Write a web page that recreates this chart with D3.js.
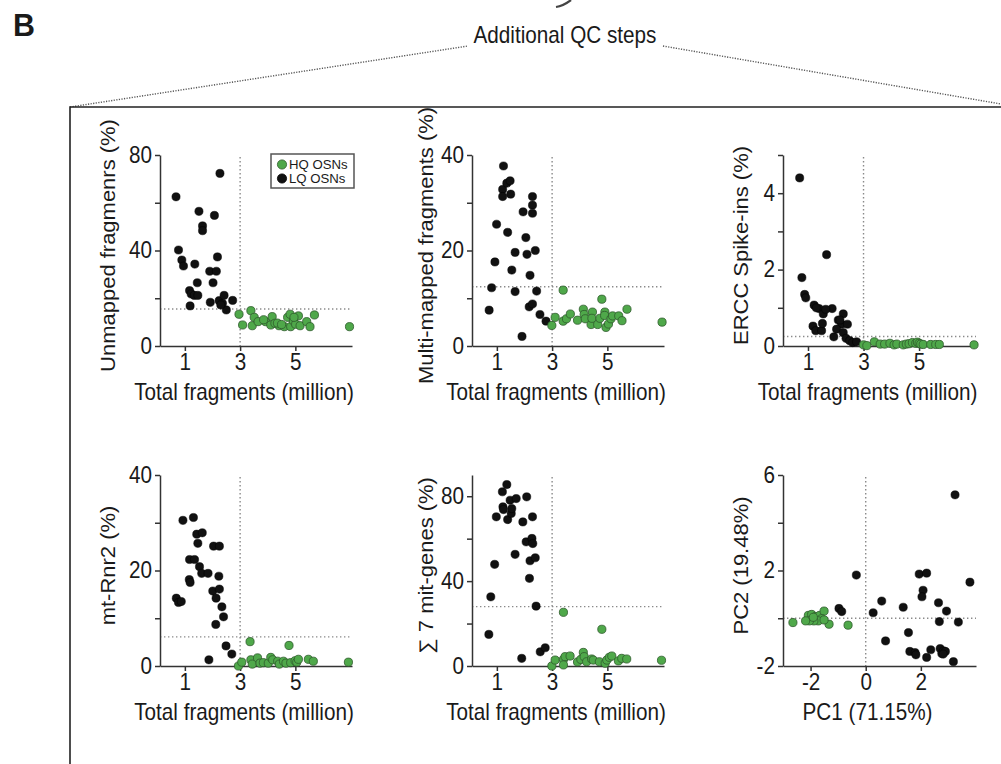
<!DOCTYPE html>
<html><head><meta charset="utf-8">
<script src="https://cdn.jsdelivr.net/npm/d3@7"></script>
<style>
body{margin:0;background:#fff;}
svg text{font-family:"Liberation Sans",Arial,Helvetica,sans-serif;fill:#1a1a1a;}
</style></head><body>
<svg id="fig" width="1001" height="764"></svg>
<script>
// ---- cell-level QC values: [total fragments (million), metric] ----
const unmappedLQ = [[0.68,62.5],[0.77,40.2],[0.89,36.0],[0.95,33.5],[1.36,34.3],[1.19,16.8],[1.17,23.2],[1.23,21.8],[1.34,21.2],[1.47,21.2],[1.45,26.5],[1.51,56.4],[1.64,50.3],[1.64,48.3],[1.90,31.3],[2.02,26.5],[1.92,18.3],[2.07,54.7],[2.14,31.3],[2.18,37.3],[2.27,72.3],[2.24,19.0],[2.36,17.9],[2.42,21.2],[2.50,15.1],[2.73,19.1],[2.30,17.2]];
const unmappedHQ = [[2.96,13.3],[3.09,8.8],[3.39,14.8],[3.51,12.0],[3.44,8.5],[3.65,10.2],[3.92,10.2],[4.11,8.8],[4.16,12.3],[4.26,9.5],[4.41,8.5],[4.60,8.1],[4.72,12.0],[4.81,13.3],[4.83,8.1],[4.93,10.5],[5.01,9.1],[5.11,12.6],[5.17,8.5],[5.41,10.2],[5.53,8.1],[5.69,13.0],[6.96,8.1],[3.85,11.0],[4.35,9.6],[4.50,9.0],[4.95,12.0]];

const multiLQ = [[0.72,7.5],[0.81,12.2],[0.93,17.6],[0.99,25.5],[1.24,37.7],[1.21,32.8],[1.21,31.3],[1.36,34.1],[1.48,34.6],[1.50,31.8],[1.39,23.8],[1.54,15.9],[1.66,19.6],[1.66,11.4],[1.91,2.0],[1.95,28.1],[2.05,22.7],[2.09,19.2],[2.20,14.8],[2.17,8.2],[2.29,8.8],[2.29,31.3],[2.29,29.5],[2.29,27.8],[2.39,20.0],[2.44,11.5],[2.56,6.6],[2.78,5.2]];
const multiHQ = [[2.99,4.3],[3.11,6.0],[3.40,11.7],[3.40,5.2],[3.52,5.7],[3.66,6.7],[3.92,5.4],[4.13,7.7],[4.16,6.6],[4.20,5.7],[4.41,4.5],[4.46,7.1],[4.44,5.8],[4.65,4.5],[4.73,5.8],[4.80,9.8],[4.91,7.1],[4.90,6.4],[4.95,3.9],[5.04,4.6],[5.13,5.7],[5.19,6.3],[5.41,6.3],[5.53,5.3],[5.71,7.7],[6.98,5.0]];

const erccLQ = [[0.70,4.40],[1.67,2.39],[0.78,1.79],[0.88,1.35],[0.92,1.26],[1.22,1.07],[1.40,0.98],[1.55,0.84],[1.87,0.98],[1.18,0.52],[1.28,0.40],[1.49,0.40],[1.52,0.59],[1.93,0.24],[2.09,0.68],[2.27,0.84],[2.21,0.57],[2.03,0.44],[2.42,0.57],[2.27,0.35],[2.37,0.20],[2.50,0.14],[2.61,0.09],[2.75,0.11],[1.30,1.00],[1.64,0.96],[2.15,0.68]];
const erccHQ = [[3.00,0.03],[3.12,0.01],[3.39,0.11],[3.60,0.05],[3.76,0.05],[3.95,0.07],[4.10,0.03],[4.20,0.05],[4.43,0.03],[4.54,0.05],[4.64,0.06],[4.76,0.09],[4.88,0.07],[4.94,0.10],[5.00,0.07],[5.06,0.05],[5.15,0.04],[5.42,0.04],[5.60,0.04],[5.73,0.04],[6.98,0.03]];

const rnr2LQ = [[0.69,14.2],[0.77,13.3],[0.87,13.5],[0.93,30.5],[1.16,18.1],[1.19,17.5],[1.17,22.3],[1.31,31.1],[1.35,22.3],[1.43,27.6],[1.47,25.7],[1.53,20.8],[1.63,27.9],[1.61,19.4],[1.84,19.4],[1.87,1.3],[2.01,15.7],[2.04,25.1],[2.13,14.2],[2.12,8.7],[2.23,18.8],[2.25,25.1],[2.25,16.1],[2.34,12.4],[2.40,10.3],[2.49,4.2],[2.70,2.5]];
const rnr2HQ = [[2.94,0.0],[3.06,0.8],[3.36,5.1],[3.39,1.3],[3.44,0.4],[3.63,1.7],[3.72,0.6],[3.84,0.7],[4.02,0.6],[4.11,1.8],[4.18,1.3],[4.36,1.0],[4.42,0.4],[4.57,1.0],[4.66,0.6],[4.77,4.3],[4.83,0.7],[4.99,1.1],[5.05,0.8],[5.11,1.4],[5.47,1.4],[5.65,1.0],[6.92,0.8]];

const mitLQ = [[0.71,14.9],[0.78,32.6],[0.92,47.9],[0.98,70.3],[1.20,82.1],[1.36,85.5],[1.22,75.0],[1.24,73.7],[1.39,69.0],[1.48,78.1],[1.52,71.9],[1.54,74.2],[1.70,78.9],[1.66,52.6],[1.90,3.6],[1.94,67.9],[2.06,58.5],[2.08,79.7],[2.42,28.2],[2.18,41.3],[2.20,49.6],[2.27,60.1],[2.30,57.7],[2.29,70.3],[2.39,51.0],[2.57,6.7],[2.75,8.6]];
const mitHQ = [[2.99,0.0],[3.11,2.8],[3.41,25.3],[3.41,3.1],[3.47,4.4],[3.41,0.5],[3.65,4.7],[3.92,1.9],[4.04,3.1],[4.13,6.4],[4.16,4.4],[4.25,2.0],[4.43,3.3],[4.49,2.8],[4.71,2.0],[4.80,17.3],[4.92,1.3],[4.98,2.8],[5.07,4.1],[5.16,4.7],[5.40,2.4],[5.52,3.6],[5.70,3.3],[6.96,2.7]];

// ---- PCA scores: [PC1, PC2] ----
const pcaLQ = [[-0.34,1.81],[-0.97,0.41],[-0.87,0.28],[0.27,0.23],[0.58,0.72],[0.72,-0.95],[1.36,0.46],[1.55,-0.60],[1.60,-1.39],[1.79,-1.44],[1.82,-1.53],[1.94,1.85],[2.21,1.89],[2.08,1.17],[2.04,0.90],[2.21,-1.64],[2.36,-1.32],[2.64,0.65],[2.67,-0.14],[2.70,-1.27],[2.76,-1.48],[2.82,-1.37],[2.89,-1.39],[2.81,-1.50],[2.93,0.30],[3.18,-1.82],[3.24,5.17],[3.36,-0.16],[3.78,1.51]];
const pcaHQ = [[-2.64,-0.18],[-2.08,0.12],[-1.96,0.16],[-1.82,0.07],[-1.67,0.12],[-1.51,0.30],[-1.60,-0.02],[-1.72,-0.11],[-1.88,-0.11],[-2.04,-0.11],[-2.18,-0.11],[-1.33,-0.25],[-0.64,-0.29],[-1.51,-0.07],[-1.90,0.04]];

// ---- axis ticks ----
const fragTicks = [1, 3, 5];
const pc1Ticks = [-2, 0, 2];
const pct80Ticks = [0, 20, 40, 60, 80], pct80Labels = [0, 40, 80];
const pct40Ticks = [0, 10, 20, 30, 40], pct40Labels = [0, 20, 40];
const erccTicks = [0, 1, 2, 3, 4, 5], erccLabels = [0, 2, 4];
const pc2Ticks = [-2, 0, 2, 4, 6], pc2Labels = [-2, 2, 6];

const legendItems = ["HQ OSNs", "LQ OSNs"];
const fragTitle = "Total fragments (million)";

const GREEN = "#4fa84a", GREEN_EDGE = "#2e5a2c", BLACK = "#111";
const SX = 0.9; // glyphs are set slightly condensed

const svg = d3.select("#fig");

// ---- panel label, header and zoom-out frame ----
svg.append("text").attr("transform", "translate(13,36) scale(0.95,1)")
  .attr("font-size", 32).attr("font-weight", "bold").text("B");
svg.append("text").attr("transform", `translate(565,43) scale(${SX},1)`)
  .attr("text-anchor", "middle").attr("font-size", 23).text("Additional QC steps");
// tail of the arrow coming down from the panel above
svg.append("path").attr("d", "M556,7 Q563,6 571,0")
  .attr("fill", "none").attr("stroke", "#444").attr("stroke-width", 2.2);

const dotted = (x1, y1, x2, y2) => svg.append("line")
  .attr("x1", x1).attr("y1", y1).attr("x2", x2).attr("y2", y2)
  .attr("stroke", "#555").attr("stroke-width", 1.4).attr("stroke-dasharray", "1.2,1.4");
dotted(70, 107, 468, 46);
dotted(663, 46, 1001, 104);

svg.append("path").attr("d", "M70,764 V107 H1001")
  .attr("fill", "none").attr("stroke", "#222").attr("stroke-width", 1.6);

// ---- scatter panels ----
const colX = [160, 472, 783];
const rowY = [[155, 346], [475, 666]];

const panels = [
  {col:0,row:0, lq:unmappedLQ, hq:unmappedHQ, xd:[0.1,7.05], xt:fragTicks, yd:[0,80], yt:pct80Ticks, yl:pct80Labels, h:15.5, v:3, yTitle:"Unmapped fragmenrs (%)", tx:107, xTitle:fragTitle, legend:true},
  {col:1,row:0, lq:multiLQ, hq:multiHQ, xd:[0.1,7.05], xt:fragTicks, yd:[0,40], yt:pct40Ticks, yl:pct40Labels, h:12.4, v:3, yTitle:"Multi-mapped fragments (%)", tx:425, xTitle:fragTitle},
  {col:2,row:0, lq:erccLQ, hq:erccHQ, xd:[0.1,7.05], xt:fragTicks, yd:[0,5], yt:erccTicks, yl:erccLabels, h:0.25, v:3, yTitle:"ERCC Spike-ins (%)", tx:740, xTitle:fragTitle},
  {col:0,row:1, lq:rnr2LQ, hq:rnr2HQ, xd:[0.1,7.05], xt:fragTicks, yd:[0,40], yt:pct40Ticks, yl:pct40Labels, h:6.1, v:3, yTitle:"mt-Rnr2 (%)", tx:107, xTitle:fragTitle},
  {col:1,row:1, lq:mitLQ, hq:mitHQ, xd:[0.1,7.05], xt:fragTicks, yd:[0,90], yt:pct80Ticks, yl:pct80Labels, h:28, v:3, yTitle:"\u2211 7 mit-genes (%)", tx:425, xTitle:fragTitle},
  {col:2,row:1, lq:pcaLQ, hq:pcaHQ, xd:[-3,4], xt:pc1Ticks, yd:[-2,6], yt:pc2Ticks, yl:pc2Labels, h:0, v:0, yTitle:"PC2 (19.48%)", tx:740, xTitle:"PC1 (71.15%)"}
];

panels.forEach(p => {
  const x0 = colX[p.col], x1 = x0 + (p.col === 2 ? 193 : 192);
  const [yTop, yBot] = rowY[p.row];
  const x = d3.scaleLinear().domain(p.xd).range([x0, x1]);
  const y = d3.scaleLinear().domain(p.yd).range([yBot, yTop]);
  const g = svg.append("g");

  // threshold guides
  const guide = { stroke: "#8a8a8a", "stroke-width": 1.4, "stroke-dasharray": "1.4,2.6" };
  const gl = g.append("line").attr("x1", x(p.v)).attr("x2", x(p.v)).attr("y1", yTop + 2).attr("y2", yBot);
  const hl = g.append("line").attr("x1", x0).attr("x2", x1).attr("y1", y(p.h)).attr("y2", y(p.h));
  [gl, hl].forEach(l => Object.entries(guide).forEach(([k, val]) => l.attr(k, val)));

  // axes
  const ax = g.append("g").attr("transform", `translate(0,${yBot})`)
    .call(d3.axisBottom(x).tickValues(p.xt).tickSize(5).tickSizeOuter(0).tickPadding(3)
      .tickFormat(d => String(d)));
  const ay = g.append("g").attr("transform", `translate(${x0},0)`)
    .call(d3.axisLeft(y).tickValues(p.yt).tickSize(5).tickSizeOuter(0).tickPadding(4)
      .tickFormat(d => p.yl.includes(d) ? String(d) : ""));
  [ax, ay].forEach(a => {
    a.selectAll(".domain, line").attr("stroke", "#333").attr("stroke-width", 1.5);
    a.selectAll("text").attr("font-size", 23).attr("fill", "#1a1a1a")
      .attr("font-family", '"Liberation Sans",Arial,sans-serif')
      .attr("transform", `scale(${SX},1)`);
  });

  // points: low-quality cells first, high-quality on top
  g.append("g").selectAll("circle").data(p.lq).join("circle")
    .attr("cx", d => x(d[0])).attr("cy", d => y(d[1])).attr("r", 4.1)
    .attr("fill", BLACK).attr("stroke", "#000").attr("stroke-width", 0.5);
  g.append("g").selectAll("circle").data(p.hq).join("circle")
    .attr("cx", d => x(d[0])).attr("cy", d => y(d[1])).attr("r", 4.1)
    .attr("fill", GREEN).attr("stroke", GREEN_EDGE).attr("stroke-width", 0.8);

  // titles
  g.append("text").attr("transform", `translate(${(x0 + x1) / 2 - 12},${yBot + 54}) scale(${SX},1)`)
    .attr("text-anchor", "middle").attr("font-size", 23).text(p.xTitle);
  g.append("text").attr("transform", `translate(${p.tx + 8},${(yTop + yBot) / 2 - 5}) scale(${SX},1) rotate(-90)`)
    .attr("text-anchor", "middle").attr("font-size", 22).text(p.yTitle);

  if (p.legend) {
    const lg = g.append("g").attr("transform", "translate(271,154)");
    lg.append("rect").attr("width", 83).attr("height", 34)
      .attr("fill", "#fff").attr("stroke", "#555").attr("stroke-width", 1.5);
    legendItems.forEach((t, i) => {
      lg.append("circle").attr("cx", 11).attr("cy", 10.5 + i * 14).attr("r", 4.6)
        .attr("fill", i === 0 ? GREEN : BLACK).attr("stroke", i === 0 ? GREEN_EDGE : "#000").attr("stroke-width", 0.8);
      lg.append("text").attr("transform", `translate(18,${14.8 + i * 14}) scale(1.1,1)`)
        .attr("font-size", 12).text(t);
    });
  }
});
</script>
</body></html>
